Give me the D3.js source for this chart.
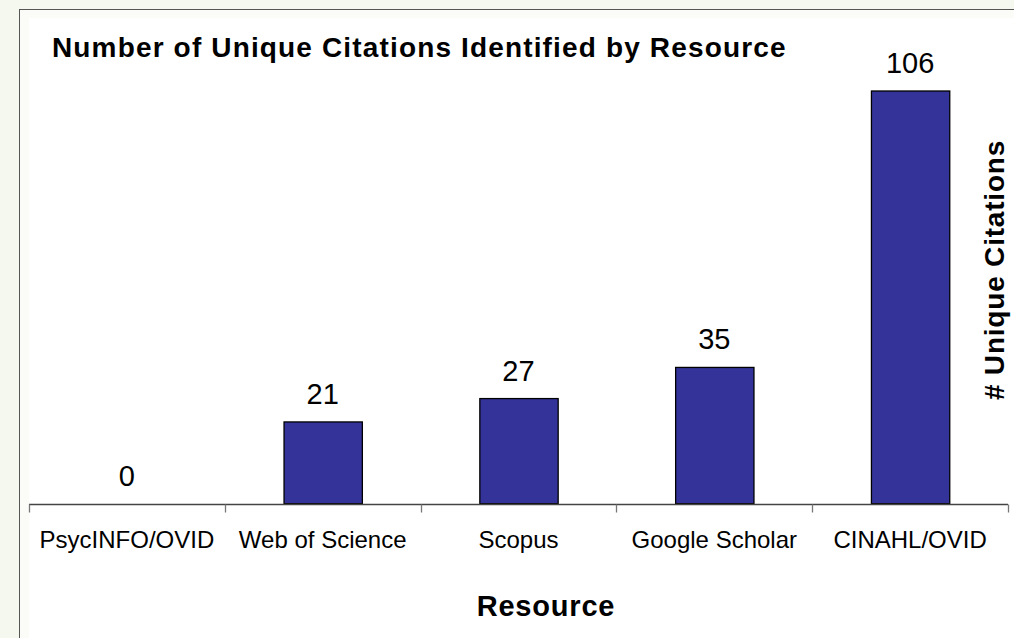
<!DOCTYPE html>
<html><head><meta charset="utf-8">
<script src="https://cdn.jsdelivr.net/npm/d3@7"></script>
<style>html,body{margin:0;padding:0;background:#f5f8ee;}svg{display:block;}</style>
</head><body>
<script>
const categories = ["PsycINFO/OVID","Web of Science","Scopus","Google Scholar","CINAHL/OVID"];
const values = [0,21,27,35,106];
const titleText = "Number of Unique Citations Identified by Resource";
const xTitle = "Resource";
const yTitle = "# Unique Citations";

const W = 1014, H = 638;
const svg = d3.select("body").append("svg").attr("width",W).attr("height",H);
const font = "'Liberation Sans', Arial, sans-serif";

svg.append("rect").attr("x",0).attr("y",0).attr("width",W).attr("height",H).attr("fill","#f5f8ee");
svg.append("rect").attr("x",19.5).attr("y",9.5).attr("width",W).attr("height",H).attr("fill","#fbfcf8").attr("stroke","#555").attr("stroke-width",1);
svg.append("rect").attr("x",29).attr("y",18).attr("width",W).attr("height",H).attr("fill","#ffffff");

const x = d3.scaleBand().domain(categories).range([29,1008]).paddingInner(0).paddingOuter(0);
const y = d3.scaleLinear().domain([0,120]).range([503.7,36.5]);
const bw = x.bandwidth();

// bars
svg.append("g").selectAll("rect").data(categories.map((c,i)=>({c,v:values[i]})).filter(d=>d.v>0))
  .join("rect")
  .attr("x",d=>x(d.c)+bw*0.3+0.5).attr("width",bw*0.4)
  .attr("y",d=>y(d.v)).attr("height",d=>y(0)-y(d.v))
  .attr("fill","#333399").attr("stroke","#000").attr("stroke-width",1.3);

// value labels
svg.append("g").selectAll("text").data(categories.map((c,i)=>({c,v:values[i]})))
  .join("text")
  .attr("x",d=>x(d.c)+bw/2).attr("y",d=>y(d.v)-18)
  .attr("text-anchor","middle").attr("font-family",font).attr("font-size",29).attr("fill","#000")
  .text(d=>d.v);

// axis line and ticks
const y0 = Math.round(y(0))+0.5;
svg.append("line").attr("x1",29).attr("x2",1008).attr("y1",y0).attr("y2",y0).attr("stroke","#444").attr("stroke-width",1.3);
const bounds = categories.map(c=>x(c)).concat([x.range()[1]]);
svg.append("g").selectAll("line").data(bounds).join("line")
  .attr("x1",d=>Math.round(d)+0.5).attr("x2",d=>Math.round(d)+0.5)
  .attr("y1",y0).attr("y2",y0+8).attr("stroke","#777").attr("stroke-width",1.3);

// category labels
svg.append("g").selectAll("text").data(categories).join("text")
  .attr("x",d=>x(d)+bw/2).attr("y",548)
  .attr("text-anchor","middle").attr("font-family",font).attr("font-size",24).attr("fill","#000")
  .text(d=>d);

// titles
svg.append("text").attr("x",52).attr("y",57).attr("font-family",font).attr("font-weight","bold")
  .attr("font-size",28).attr("letter-spacing",1.15).attr("fill","#000").text(titleText);
svg.append("text").attr("x",546).attr("y",616).attr("text-anchor","middle").attr("font-family",font)
  .attr("font-weight","bold").attr("font-size",29).attr("letter-spacing",0.8).attr("fill","#000").text(xTitle);
svg.append("text").attr("transform","translate(1004,270) rotate(-90)").attr("text-anchor","middle")
  .attr("font-family",font).attr("font-weight","bold").attr("font-size",28).attr("letter-spacing",0.8)
  .attr("fill","#000").text(yTitle);
</script>
</body></html>
